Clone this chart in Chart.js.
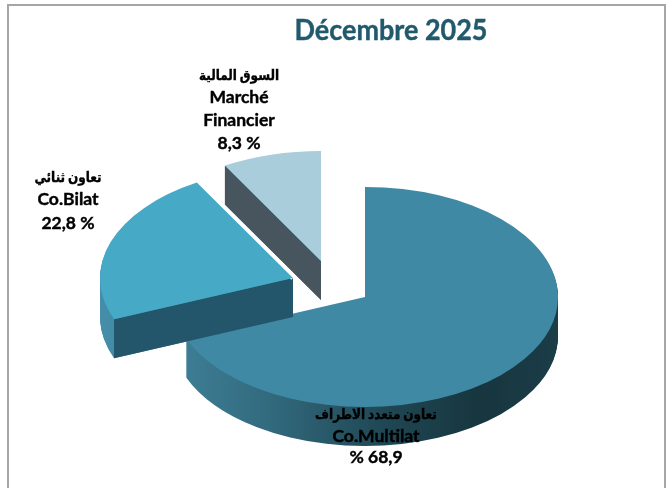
<!DOCTYPE html>
<html lang="fr">
<head>
<meta charset="utf-8">
<title>Décembre 2025</title>
<script src="https://cdn.jsdelivr.net/npm/chart.js@4"></script>
<style>
  html, body { margin: 0; padding: 0; background: #fff; }
  canvas { display: block; }
</style>
</head>
<body>
<canvas id="c" width="670" height="488"></canvas>
<script>
// ---- data ----
const categories = ['Co.Multilat', 'Co.Bilat', 'Marché Financier'];
const values = [68.9, 22.8, 8.3];
const titleText = 'Décembre 2025';
const labelLines = [
  ['تعاون متعدد الاطراف', 'Co.Multilat', '% 68,9'],
  ['تعاون ثنائي', 'Co.Bilat', '22,8 %'],
  ['السوق المالية', 'Marché', 'Financier', '8,3 %']
];

// ---- style ----
const topColors = ['#3f89a5', '#46a9c6', '#a9cddb'];
const cutColors = [null, '#23566a', '#47555e'];
const squash = 0.57, depth = 39;
const shifts = [[0, 0], [-72, -19], [-44, -36]];
const labelX = [376, 68, 239];
const labelY = [[414, 437, 458], [177, 200, 224], [75, 98, 121, 144]];
const FONT = 'Lato, "DejaVu Sans", sans-serif';

function makeWallFill(ctx, arc, i, dx) {
  const l = arc.x + dx - arc.outerRadius, w = 2 * arc.outerRadius;
  const g = ctx.createLinearGradient(l, 0, l + w, 0);
  if (i === 0) {
    g.addColorStop(0, '#3f8098');
    g.addColorStop(0.25, '#326a7e');
    g.addColorStop(0.55, '#1f4754');
    g.addColorStop(0.8, '#17363f');
    g.addColorStop(1, '#1b3d48');
  } else {
    g.addColorStop(0, '#4f9ab6');
    g.addColorStop(0.3, '#3f86a0');
    g.addColorStop(1, '#3f86a0');
  }
  return g;
}

function drawFace(ctx, arc, fill, dx, dy) {
  const copy = Object.create(arc);
  copy.options = Object.assign({}, arc.options, { backgroundColor: fill, borderWidth: 0 });
  ctx.save();
  ctx.translate(arc.x + dx, arc.y + dy);
  ctx.scale(1, squash);
  ctx.translate(-arc.x, -arc.y);
  copy.draw(ctx);
  ctx.restore();
}

function rimPoint(arc, angle, dx, dy) {
  return [arc.x + dx + arc.outerRadius * Math.cos(angle),
          arc.y + dy + arc.outerRadius * Math.sin(angle) * squash];
}

function squeezedText(ctx, text, x, y, sx, heavy) {
  ctx.save();
  ctx.translate(x, y);
  ctx.scale(sx, 1);
  ctx.fillText(text, 0, 0);
  if (heavy) {
    ctx.strokeStyle = ctx.fillStyle;
    ctx.lineWidth = heavy;
    ctx.strokeText(text, 0, 0);
  }
  ctx.restore();
}

const pie3d = {
  id: 'pie3d',
  beforeDraw(chart) {
    const ctx = chart.ctx;
    ctx.save();
    ctx.strokeStyle = '#a6a6a6';
    ctx.lineWidth = 2;
    ctx.beginPath();
    ctx.moveTo(8, chart.height);
    ctx.lineTo(8, 5);
    ctx.lineTo(665, 5);
    ctx.lineTo(665, chart.height);
    ctx.stroke();
    ctx.restore();
  },
  beforeDatasetDraw(chart) {
    const ctx = chart.ctx;
    const arcs = chart.getDatasetMeta(0).data;
    [0, 2, 1].forEach(i => {
      const arc = arcs[i];
      const [dx, dy] = shifts[i];
      const wall = makeWallFill(ctx, arc, i, dx);
      for (let d = depth; d >= 1; d--) drawFace(ctx, arc, wall, dx, dy + d);
      if (cutColors[i]) {
        const ax = arc.x + dx, ay = arc.y + dy;
        const [rx, ry] = rimPoint(arc, arc.startAngle, dx, dy);
        ctx.fillStyle = cutColors[i];
        ctx.beginPath();
        ctx.moveTo(ax, ay);
        ctx.lineTo(rx, ry);
        ctx.lineTo(rx, ry + depth);
        ctx.lineTo(ax, ay + depth);
        ctx.closePath();
        ctx.fill();
      }
      if (i === 1) {
        const [ex, ey] = rimPoint(arc, arc.endAngle, dx, dy);
        ctx.strokeStyle = '#ffffff';
        ctx.lineWidth = 5;
        ctx.beginPath();
        ctx.moveTo(arc.x + dx, arc.y + dy);
        ctx.lineTo(ex, ey);
        ctx.stroke();
      }
      drawFace(ctx, arc, topColors[i], dx, dy);
    });
    return false;
  },
  afterDraw(chart) {
    const ctx = chart.ctx;
    ctx.save();
    ctx.textAlign = 'center';
    ctx.textBaseline = 'middle';
    ctx.fillStyle = '#215a6d';
    ctx.font = 'bold 29px ' + FONT;
    squeezedText(ctx, titleText, 391, 31, 0.93, 0.4);
    ctx.fillStyle = '#000000';
    labelLines.forEach((lines, i) => {
      lines.forEach((line, j) => {
        const arabic = /[\u0600-\u06FF]/.test(line);
        ctx.font = (arabic ? 'bold 14px ' : 'bold 17px ') + FONT;
        squeezedText(ctx, line, labelX[i], labelY[i][j], arabic ? 0.86 : 1.03, 0.4);
      });
    });
    ctx.restore();
  }
};

new Chart(document.getElementById('c'), {
  type: 'pie',
  data: {
    labels: categories,
    datasets: [{ data: values, backgroundColor: topColors, borderWidth: 0 }]
  },
  options: {
    responsive: false,
    animation: false,
    radius: 193,
    layout: { padding: { left: 60, right: 0, top: 106, bottom: 0 } },
    plugins: { legend: { display: false }, tooltip: { enabled: false }, title: { display: false } }
  },
  plugins: [pie3d]
});
</script>
</body>
</html>
